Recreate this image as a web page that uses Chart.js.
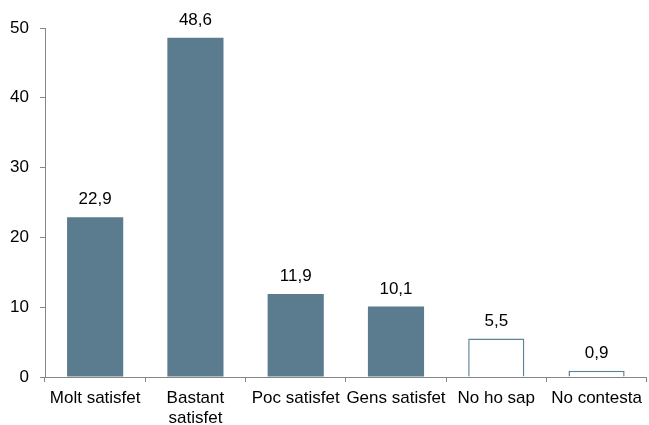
<!DOCTYPE html>
<html><head><meta charset="utf-8">
<script src="https://cdn.jsdelivr.net/npm/chart.js@4/dist/chart.umd.min.js"></script>
<style>html,body{margin:0;padding:0;background:#fff}#wrap{width:649px;height:425px}</style>
</head><body><div id="wrap"><canvas id="c" width="649" height="425"></canvas></div>
<script>
const categories = ["Molt satisfet", ["Bastant", "satisfet"], "Poc satisfet", "Gens satisfet", "No ho sap", "No contesta"];
const values = [22.9, 48.6, 11.9, 10.1, 5.5, 0.9];
const yTicks = [0, 10, 20, 30, 40, 50];

const FILL = '#5b7c8e', EDGE = '#5f8296';
const fills = values.map((v, i) => i < 4 ? FILL : '#ffffff');
const FONT = '"Liberation Sans", Arial, sans-serif';

const labelPlugin = {
  id: 'vlabels',
  afterDatasetsDraw(chart) {
    const ctx = chart.ctx;
    const meta = chart.getDatasetMeta(0);
    ctx.save();
    ctx.font = '17px ' + FONT;
    ctx.fillStyle = '#000';
    ctx.textAlign = 'center';
    ctx.textBaseline = 'alphabetic';
    meta.data.forEach((bar, i) => {
      ctx.fillText(values[i].toFixed(1).replace('.', ','), bar.x, bar.y - 13);
    });
    ctx.restore();
  }
};

new Chart(document.getElementById('c'), {
  type: 'bar',
  data: {
    labels: categories,
    datasets: [{
      data: values,
      backgroundColor: fills,
      borderColor: EDGE,
      borderWidth: values.map((v, i) => i < 4 ? 0 : 1.5),
      categoryPercentage: 1,
      barPercentage: 0.56
    }]
  },
  options: {
    responsive: false,
    animation: false,
    layout: { padding: { top: 28, right: 1, left: 0, bottom: 0 } },
    plugins: { legend: { display: false }, tooltip: { enabled: false } },
    scales: {
      x: {
        afterFit(s) { s.height = 48; },
        border: { color: '#868686', width: 1 },
        grid: { drawOnChartArea: false, tickLength: 5, color: '#868686', offset: true },
        ticks: { color: '#000', font: { family: FONT, size: 17, lineHeight: 1.15 }, padding: 7, maxRotation: 0, autoSkip: false }
      },
      y: {
        min: 0, max: 50,
        afterFit(s) { s.width = 45; },
        afterBuildTicks(s) { s.ticks = yTicks.map(v => ({ value: v })); },
        border: { color: '#868686', width: 1 },
        grid: { drawOnChartArea: false, tickLength: 5, color: '#868686' },
        ticks: { color: '#000', font: { family: FONT, size: 17 }, padding: 11 }
      }
    }
  },
  plugins: [labelPlugin]
});
</script></body></html>
